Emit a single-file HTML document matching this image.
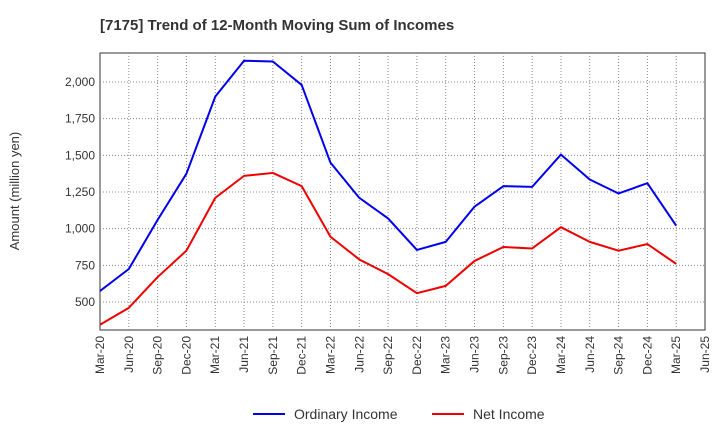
<!DOCTYPE html>
<html><head><meta charset="utf-8"><style>
body{margin:0;background:#fff;font-family:"Liberation Sans",Arial,sans-serif;}
svg text{font-family:"Liberation Sans",Arial,sans-serif;}
</style></head><body>
<svg id="chart" width="720" height="440" xmlns="http://www.w3.org/2000/svg">
<text x="100" y="30" font-size="15" font-weight="bold" fill="#333">[7175]  Trend of 12-Month Moving Sum of Incomes</text>
<rect x="100" y="53" width="605" height="277" fill="#fff" stroke="#333" stroke-width="1"/>
<g id="grid"></g><g id="axes"></g><g id="series"></g>
<text transform="translate(19,191) rotate(-90)" text-anchor="middle" font-size="13" fill="#333">Amount (million yen)</text>
<g>
<line x1="253" y1="414" x2="285" y2="414" stroke="#0000ee" stroke-width="2"/>
<text x="294" y="419" font-size="14" fill="#333">Ordinary Income</text>
<line x1="432" y1="414" x2="464" y2="414" stroke="#ee0000" stroke-width="2"/>
<text x="473" y="419" font-size="14" fill="#333">Net Income</text>
</g>
</svg>
<script>
const categories=["Mar-20","Jun-20","Sep-20","Dec-20","Mar-21","Jun-21","Sep-21","Dec-21","Mar-22","Jun-22","Sep-22","Dec-22","Mar-23","Jun-23","Sep-23","Dec-23","Mar-24","Jun-24","Sep-24","Dec-24","Mar-25","Jun-25"];
const ordinaryIncome=[575,725,1060,1375,1900,2145,2140,1980,1450,1210,1070,855,910,1150,1290,1285,1505,1335,1240,1310,1020];
const netIncome=[345,460,670,850,1210,1360,1380,1290,945,790,690,560,610,780,875,865,1010,910,850,895,760];
const yTicks=[500,750,1000,1250,1500,1750,2000];
const yTickLabels=["500","750","1,000","1,250","1,500","1,750","2,000"];
const NS="http://www.w3.org/2000/svg";
const x0=100,x1=705,yTop=53,yBot=330;
function xs(i){return x0+i*(x1-x0)/(categories.length-1);}
function ys(v){return 302-(v-500)*220/1500;}
function mk(t,a,p){const e=document.createElementNS(NS,t);for(const k in a)e.setAttribute(k,a[k]);p.appendChild(e);return e;}
const grid=document.getElementById('grid'),axes=document.getElementById('axes'),series=document.getElementById('series');
yTicks.forEach((v,i)=>{
 const l=mk('line',{x1:x0,x2:x1,y1:ys(v),y2:ys(v),stroke:'#888','stroke-dasharray':'1,2','stroke-width':1},grid);
 
 
 const t=mk('text',{x:x0-5,y:ys(v)+4,'text-anchor':'end','font-size':12,fill:'#333'},axes);
 t.textContent=yTickLabels[i];
 
 
});
categories.forEach((c,i)=>{
 const x=xs(i);
 if(i>0&&i<categories.length-1){
  const l=mk('line',{x1:x,x2:x,y1:yTop,y2:yBot,stroke:'#888','stroke-dasharray':'1,2','stroke-width':1},grid);
  
  
 }
 const t=mk('text',{transform:`translate(${x+4},${yBot+6}) rotate(-90)`,'text-anchor':'end','font-size':12,fill:'#333'},axes);
 t.textContent=c;
 
 
});
function drawLine(vals,color,name){
 const p=mk('polyline',{points:vals.map((v,i)=>xs(i)+','+ys(v)).join(' '),fill:'none',stroke:color,'stroke-width':2,'stroke-linejoin':'round'},series);
 
 
}
drawLine(ordinaryIncome,'#0000ee','ordinary-income-line');
drawLine(netIncome,'#ee0000','net-income-line');
</script>
</body></html>
